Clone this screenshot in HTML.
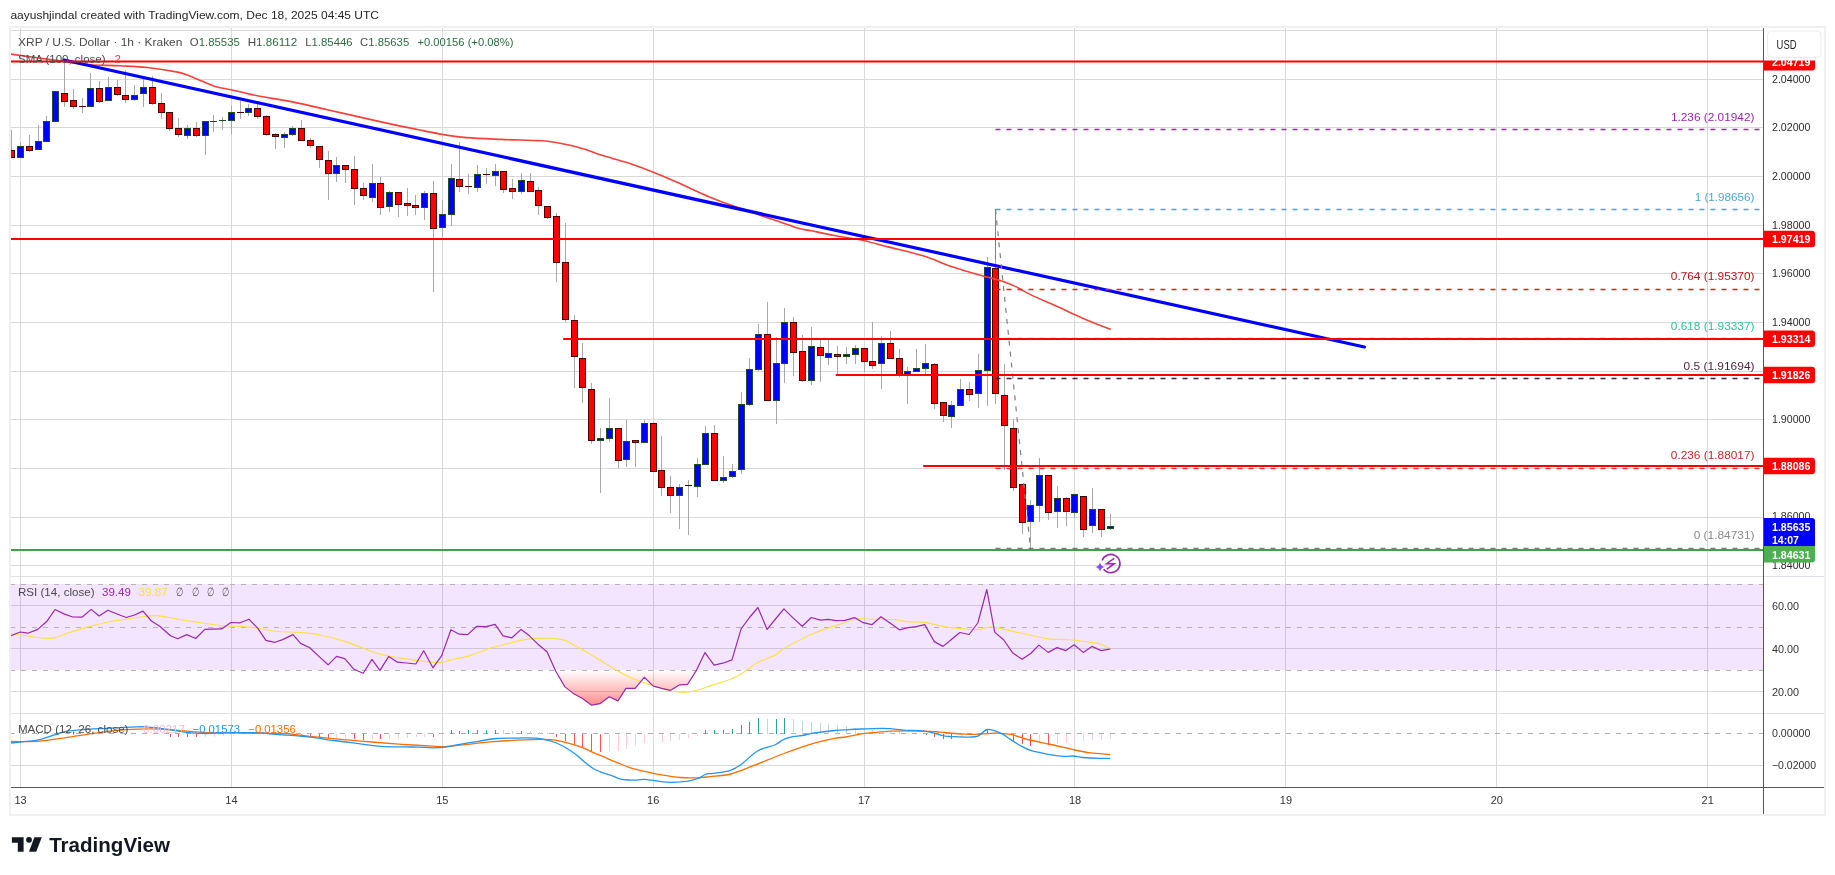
<!DOCTYPE html><html><head><meta charset="utf-8"><style>html,body{margin:0;padding:0;background:#fff;}svg{display:block;will-change:transform;}</style></head><body><svg width="1835" height="875" viewBox="0 0 1835 875" font-family='"Liberation Sans", sans-serif'>
<rect x="0" y="0" width="1835" height="875" fill="#ffffff"/>
<text x="10.4" y="18.7" font-size="11.5" fill="#262626" textLength="368.6" lengthAdjust="spacingAndGlyphs">aayushjindal created with TradingView.com, Dec 18, 2025 04:45 UTC</text>
<rect x="9" y="26" width="1817" height="790" fill="#f0f0f0"/>
<rect x="11" y="28" width="1813" height="786" fill="#ffffff"/>
<defs><clipPath id="cm"><rect x="11" y="28" width="1752" height="548"/></clipPath>
<clipPath id="cr"><rect x="11" y="577" width="1752" height="136"/></clipPath>
<clipPath id="cd"><rect x="11" y="714" width="1752" height="73"/></clipPath>
<linearGradient id="os" x1="0" y1="0" x2="0" y2="1"><stop offset="0" stop-color="#ff0000" stop-opacity="0"/><stop offset="1" stop-color="#ff0000" stop-opacity="0.45"/></linearGradient>
</defs>
<rect x="20" y="28" width="1" height="759" fill="#d9d9d9"/>
<rect x="231" y="28" width="1" height="759" fill="#d9d9d9"/>
<rect x="442" y="28" width="1" height="759" fill="#d9d9d9"/>
<rect x="653" y="28" width="1" height="759" fill="#d9d9d9"/>
<rect x="864" y="28" width="1" height="759" fill="#d9d9d9"/>
<rect x="1074" y="28" width="1" height="759" fill="#d9d9d9"/>
<rect x="1285" y="28" width="1" height="759" fill="#d9d9d9"/>
<rect x="1496" y="28" width="1" height="759" fill="#d9d9d9"/>
<rect x="1707" y="28" width="1" height="759" fill="#d9d9d9"/>
<rect x="11" y="30" width="1752" height="1" fill="#d9d9d9"/>
<rect x="11" y="79" width="1752" height="1" fill="#d9d9d9"/>
<rect x="11" y="127" width="1752" height="1" fill="#d9d9d9"/>
<rect x="11" y="176" width="1752" height="1" fill="#d9d9d9"/>
<rect x="11" y="225" width="1752" height="1" fill="#d9d9d9"/>
<rect x="11" y="273" width="1752" height="1" fill="#d9d9d9"/>
<rect x="11" y="322" width="1752" height="1" fill="#d9d9d9"/>
<rect x="11" y="371" width="1752" height="1" fill="#d9d9d9"/>
<rect x="11" y="419" width="1752" height="1" fill="#d9d9d9"/>
<rect x="11" y="468" width="1752" height="1" fill="#d9d9d9"/>
<rect x="11" y="517" width="1752" height="1" fill="#d9d9d9"/>
<rect x="11" y="565" width="1752" height="1" fill="#d9d9d9"/>
<g clip-path="url(#cm)">
<rect x="11" y="130" width="1" height="28" fill="#a8a8a8"/><rect x="8" y="150" width="7" height="8" fill="#4d0000"/><rect x="9" y="151" width="5" height="6" fill="#ff0000"/><rect x="20" y="142" width="1" height="16" fill="#a8a8a8"/><rect x="17" y="146" width="7" height="12" fill="#1b4d2a"/><rect x="18" y="147" width="5" height="10" fill="#0000ff"/><rect x="29" y="135" width="1" height="17" fill="#a8a8a8"/><rect x="26" y="146" width="7" height="5" fill="#4d0000"/><rect x="27" y="147" width="5" height="3" fill="#ff0000"/><rect x="38" y="125" width="1" height="24" fill="#a8a8a8"/><rect x="35" y="141" width="7" height="9" fill="#1b4d2a"/><rect x="36" y="142" width="5" height="7" fill="#0000ff"/><rect x="46" y="116" width="1" height="26" fill="#a8a8a8"/><rect x="43" y="121" width="7" height="21" fill="#1b4d2a"/><rect x="44" y="122" width="5" height="19" fill="#0000ff"/><rect x="55" y="91" width="1" height="30" fill="#a8a8a8"/><rect x="52" y="91" width="7" height="31" fill="#1b4d2a"/><rect x="53" y="92" width="5" height="29" fill="#0000ff"/><rect x="64" y="60" width="1" height="47" fill="#a8a8a8"/><rect x="61" y="93" width="7" height="9" fill="#4d0000"/><rect x="62" y="94" width="5" height="7" fill="#ff0000"/><rect x="73" y="89" width="1" height="20" fill="#a8a8a8"/><rect x="70" y="100" width="7" height="7" fill="#4d0000"/><rect x="71" y="101" width="5" height="5" fill="#ff0000"/><rect x="82" y="98" width="1" height="15" fill="#a8a8a8"/><rect x="79" y="106" width="7" height="1" fill="#4d0000"/><rect x="90" y="73" width="1" height="33" fill="#a8a8a8"/><rect x="87" y="88" width="7" height="19" fill="#1b4d2a"/><rect x="88" y="89" width="5" height="17" fill="#0000ff"/><rect x="99" y="81" width="1" height="22" fill="#a8a8a8"/><rect x="96" y="88" width="7" height="14" fill="#4d0000"/><rect x="97" y="89" width="5" height="12" fill="#ff0000"/><rect x="108" y="77" width="1" height="23" fill="#a8a8a8"/><rect x="105" y="87" width="7" height="14" fill="#1b4d2a"/><rect x="106" y="88" width="5" height="12" fill="#0000ff"/><rect x="117" y="80" width="1" height="16" fill="#a8a8a8"/><rect x="114" y="87" width="7" height="8" fill="#4d0000"/><rect x="115" y="88" width="5" height="6" fill="#ff0000"/><rect x="125" y="70" width="1" height="33" fill="#a8a8a8"/><rect x="122" y="95" width="7" height="5" fill="#4d0000"/><rect x="123" y="96" width="5" height="3" fill="#ff0000"/><rect x="134" y="85" width="1" height="16" fill="#a8a8a8"/><rect x="131" y="95" width="7" height="5" fill="#1b4d2a"/><rect x="132" y="96" width="5" height="3" fill="#0000ff"/><rect x="143" y="79" width="1" height="28" fill="#a8a8a8"/><rect x="140" y="87" width="7" height="7" fill="#1b4d2a"/><rect x="141" y="88" width="5" height="5" fill="#0000ff"/><rect x="152" y="76" width="1" height="29" fill="#a8a8a8"/><rect x="149" y="87" width="7" height="17" fill="#4d0000"/><rect x="150" y="88" width="5" height="15" fill="#ff0000"/><rect x="161" y="93" width="1" height="26" fill="#a8a8a8"/><rect x="158" y="103" width="7" height="10" fill="#4d0000"/><rect x="159" y="104" width="5" height="8" fill="#ff0000"/><rect x="169" y="112" width="1" height="19" fill="#a8a8a8"/><rect x="166" y="112" width="7" height="17" fill="#4d0000"/><rect x="167" y="113" width="5" height="15" fill="#ff0000"/><rect x="178" y="118" width="1" height="19" fill="#a8a8a8"/><rect x="175" y="128" width="7" height="7" fill="#4d0000"/><rect x="176" y="129" width="5" height="5" fill="#ff0000"/><rect x="187" y="125" width="1" height="14" fill="#a8a8a8"/><rect x="184" y="128" width="7" height="8" fill="#1b4d2a"/><rect x="185" y="129" width="5" height="6" fill="#0000ff"/><rect x="196" y="122" width="1" height="15" fill="#a8a8a8"/><rect x="193" y="128" width="7" height="8" fill="#4d0000"/><rect x="194" y="129" width="5" height="6" fill="#ff0000"/><rect x="205" y="121" width="1" height="34" fill="#a8a8a8"/><rect x="202" y="121" width="7" height="15" fill="#1b4d2a"/><rect x="203" y="122" width="5" height="13" fill="#0000ff"/><rect x="213" y="115" width="1" height="17" fill="#a8a8a8"/><rect x="210" y="121" width="7" height="1" fill="#1b4d2a"/><rect x="222" y="117" width="1" height="13" fill="#a8a8a8"/><rect x="219" y="120" width="7" height="1" fill="#1b4d2a"/><rect x="231" y="106" width="1" height="28" fill="#a8a8a8"/><rect x="228" y="112" width="7" height="9" fill="#1b4d2a"/><rect x="229" y="113" width="5" height="7" fill="#0000ff"/><rect x="240" y="101" width="1" height="18" fill="#a8a8a8"/><rect x="237" y="112" width="7" height="1" fill="#4d0000"/><rect x="248" y="104" width="1" height="12" fill="#a8a8a8"/><rect x="245" y="108" width="7" height="5" fill="#1b4d2a"/><rect x="246" y="109" width="5" height="3" fill="#0000ff"/><rect x="257" y="104" width="1" height="15" fill="#a8a8a8"/><rect x="254" y="108" width="7" height="9" fill="#4d0000"/><rect x="255" y="109" width="5" height="7" fill="#ff0000"/><rect x="266" y="115" width="1" height="21" fill="#a8a8a8"/><rect x="263" y="116" width="7" height="19" fill="#4d0000"/><rect x="264" y="117" width="5" height="17" fill="#ff0000"/><rect x="275" y="133" width="1" height="16" fill="#a8a8a8"/><rect x="272" y="134" width="7" height="3" fill="#4d0000"/><rect x="273" y="135" width="5" height="1" fill="#ff0000"/><rect x="284" y="132" width="1" height="16" fill="#a8a8a8"/><rect x="281" y="134" width="7" height="4" fill="#1b4d2a"/><rect x="282" y="135" width="5" height="2" fill="#0000ff"/><rect x="292" y="126" width="1" height="10" fill="#a8a8a8"/><rect x="289" y="128" width="7" height="7" fill="#1b4d2a"/><rect x="290" y="129" width="5" height="5" fill="#0000ff"/><rect x="301" y="120" width="1" height="20" fill="#a8a8a8"/><rect x="298" y="128" width="7" height="13" fill="#4d0000"/><rect x="299" y="129" width="5" height="11" fill="#ff0000"/><rect x="310" y="138" width="1" height="10" fill="#a8a8a8"/><rect x="307" y="140" width="7" height="6" fill="#4d0000"/><rect x="308" y="141" width="5" height="4" fill="#ff0000"/><rect x="319" y="146" width="1" height="22" fill="#a8a8a8"/><rect x="316" y="146" width="7" height="14" fill="#4d0000"/><rect x="317" y="147" width="5" height="12" fill="#ff0000"/><rect x="328" y="151" width="1" height="49" fill="#a8a8a8"/><rect x="325" y="160" width="7" height="14" fill="#4d0000"/><rect x="326" y="161" width="5" height="12" fill="#ff0000"/><rect x="336" y="157" width="1" height="25" fill="#a8a8a8"/><rect x="333" y="165" width="7" height="9" fill="#1b4d2a"/><rect x="334" y="166" width="5" height="7" fill="#0000ff"/><rect x="345" y="165" width="1" height="18" fill="#a8a8a8"/><rect x="342" y="165" width="7" height="5" fill="#4d0000"/><rect x="343" y="166" width="5" height="3" fill="#ff0000"/><rect x="354" y="156" width="1" height="49" fill="#a8a8a8"/><rect x="351" y="169" width="7" height="20" fill="#4d0000"/><rect x="352" y="170" width="5" height="18" fill="#ff0000"/><rect x="363" y="183" width="1" height="17" fill="#a8a8a8"/><rect x="360" y="188" width="7" height="8" fill="#4d0000"/><rect x="361" y="189" width="5" height="6" fill="#ff0000"/><rect x="372" y="164" width="1" height="38" fill="#a8a8a8"/><rect x="369" y="183" width="7" height="15" fill="#1b4d2a"/><rect x="370" y="184" width="5" height="13" fill="#0000ff"/><rect x="380" y="177" width="1" height="38" fill="#a8a8a8"/><rect x="377" y="183" width="7" height="25" fill="#4d0000"/><rect x="378" y="184" width="5" height="23" fill="#ff0000"/><rect x="389" y="191" width="1" height="21" fill="#a8a8a8"/><rect x="386" y="192" width="7" height="15" fill="#1b4d2a"/><rect x="387" y="193" width="5" height="13" fill="#0000ff"/><rect x="398" y="192" width="1" height="25" fill="#a8a8a8"/><rect x="395" y="192" width="7" height="13" fill="#4d0000"/><rect x="396" y="193" width="5" height="11" fill="#ff0000"/><rect x="407" y="188" width="1" height="28" fill="#a8a8a8"/><rect x="404" y="203" width="7" height="3" fill="#4d0000"/><rect x="405" y="204" width="5" height="1" fill="#ff0000"/><rect x="415" y="195" width="1" height="20" fill="#a8a8a8"/><rect x="412" y="205" width="7" height="3" fill="#4d0000"/><rect x="413" y="206" width="5" height="1" fill="#ff0000"/><rect x="424" y="191" width="1" height="29" fill="#a8a8a8"/><rect x="421" y="193" width="7" height="15" fill="#1b4d2a"/><rect x="422" y="194" width="5" height="13" fill="#0000ff"/><rect x="433" y="181" width="1" height="111" fill="#a8a8a8"/><rect x="430" y="193" width="7" height="36" fill="#4d0000"/><rect x="431" y="194" width="5" height="34" fill="#ff0000"/><rect x="442" y="200" width="1" height="37" fill="#a8a8a8"/><rect x="439" y="214" width="7" height="14" fill="#1b4d2a"/><rect x="440" y="215" width="5" height="12" fill="#0000ff"/><rect x="451" y="164" width="1" height="62" fill="#a8a8a8"/><rect x="448" y="178" width="7" height="37" fill="#1b4d2a"/><rect x="449" y="179" width="5" height="35" fill="#0000ff"/><rect x="459" y="142" width="1" height="50" fill="#a8a8a8"/><rect x="456" y="179" width="7" height="8" fill="#4d0000"/><rect x="457" y="180" width="5" height="6" fill="#ff0000"/><rect x="468" y="174" width="1" height="20" fill="#a8a8a8"/><rect x="465" y="186" width="7" height="1" fill="#4d0000"/><rect x="477" y="165" width="1" height="27" fill="#a8a8a8"/><rect x="474" y="174" width="7" height="14" fill="#1b4d2a"/><rect x="475" y="175" width="5" height="12" fill="#0000ff"/><rect x="486" y="168" width="1" height="16" fill="#a8a8a8"/><rect x="483" y="174" width="7" height="1" fill="#4d0000"/><rect x="495" y="164" width="1" height="22" fill="#a8a8a8"/><rect x="492" y="171" width="7" height="5" fill="#1b4d2a"/><rect x="493" y="172" width="5" height="3" fill="#0000ff"/><rect x="503" y="171" width="1" height="22" fill="#a8a8a8"/><rect x="500" y="171" width="7" height="19" fill="#4d0000"/><rect x="501" y="172" width="5" height="17" fill="#ff0000"/><rect x="512" y="179" width="1" height="20" fill="#a8a8a8"/><rect x="509" y="188" width="7" height="4" fill="#4d0000"/><rect x="510" y="189" width="5" height="2" fill="#ff0000"/><rect x="521" y="173" width="1" height="21" fill="#a8a8a8"/><rect x="518" y="180" width="7" height="12" fill="#1b4d2a"/><rect x="519" y="181" width="5" height="10" fill="#0000ff"/><rect x="530" y="173" width="1" height="19" fill="#a8a8a8"/><rect x="527" y="181" width="7" height="11" fill="#4d0000"/><rect x="528" y="182" width="5" height="9" fill="#ff0000"/><rect x="538" y="187" width="1" height="28" fill="#a8a8a8"/><rect x="535" y="190" width="7" height="16" fill="#4d0000"/><rect x="536" y="191" width="5" height="14" fill="#ff0000"/><rect x="547" y="206" width="1" height="13" fill="#a8a8a8"/><rect x="544" y="206" width="7" height="12" fill="#4d0000"/><rect x="545" y="207" width="5" height="10" fill="#ff0000"/><rect x="556" y="213" width="1" height="69" fill="#a8a8a8"/><rect x="553" y="216" width="7" height="47" fill="#4d0000"/><rect x="554" y="217" width="5" height="45" fill="#ff0000"/><rect x="565" y="223" width="1" height="99" fill="#a8a8a8"/><rect x="562" y="262" width="7" height="58" fill="#4d0000"/><rect x="563" y="263" width="5" height="56" fill="#ff0000"/><rect x="574" y="315" width="1" height="73" fill="#a8a8a8"/><rect x="571" y="320" width="7" height="37" fill="#4d0000"/><rect x="572" y="321" width="5" height="35" fill="#ff0000"/><rect x="582" y="343" width="1" height="60" fill="#a8a8a8"/><rect x="579" y="358" width="7" height="30" fill="#4d0000"/><rect x="580" y="359" width="5" height="28" fill="#ff0000"/><rect x="591" y="383" width="1" height="61" fill="#a8a8a8"/><rect x="588" y="389" width="7" height="52" fill="#4d0000"/><rect x="589" y="390" width="5" height="50" fill="#ff0000"/><rect x="600" y="428" width="1" height="65" fill="#a8a8a8"/><rect x="597" y="438" width="7" height="3" fill="#1b4d2a"/><rect x="598" y="439" width="5" height="1" fill="#0000ff"/><rect x="609" y="398" width="1" height="44" fill="#a8a8a8"/><rect x="606" y="428" width="7" height="11" fill="#1b4d2a"/><rect x="607" y="429" width="5" height="9" fill="#0000ff"/><rect x="618" y="428" width="1" height="40" fill="#a8a8a8"/><rect x="615" y="428" width="7" height="33" fill="#4d0000"/><rect x="616" y="429" width="5" height="31" fill="#ff0000"/><rect x="626" y="420" width="1" height="47" fill="#a8a8a8"/><rect x="623" y="441" width="7" height="19" fill="#1b4d2a"/><rect x="624" y="442" width="5" height="17" fill="#0000ff"/><rect x="635" y="440" width="1" height="27" fill="#a8a8a8"/><rect x="632" y="440" width="7" height="3" fill="#4d0000"/><rect x="633" y="441" width="5" height="1" fill="#ff0000"/><rect x="644" y="420" width="1" height="22" fill="#a8a8a8"/><rect x="641" y="423" width="7" height="20" fill="#1b4d2a"/><rect x="642" y="424" width="5" height="18" fill="#0000ff"/><rect x="653" y="423" width="1" height="48" fill="#a8a8a8"/><rect x="650" y="423" width="7" height="49" fill="#4d0000"/><rect x="651" y="424" width="5" height="47" fill="#ff0000"/><rect x="661" y="436" width="1" height="60" fill="#a8a8a8"/><rect x="658" y="470" width="7" height="18" fill="#4d0000"/><rect x="659" y="471" width="5" height="16" fill="#ff0000"/><rect x="670" y="476" width="1" height="37" fill="#a8a8a8"/><rect x="667" y="487" width="7" height="9" fill="#4d0000"/><rect x="668" y="488" width="5" height="7" fill="#ff0000"/><rect x="679" y="484" width="1" height="45" fill="#a8a8a8"/><rect x="676" y="487" width="7" height="9" fill="#1b4d2a"/><rect x="677" y="488" width="5" height="7" fill="#0000ff"/><rect x="688" y="480" width="1" height="55" fill="#a8a8a8"/><rect x="685" y="485" width="7" height="1" fill="#4d0000"/><rect x="697" y="458" width="1" height="39" fill="#a8a8a8"/><rect x="694" y="464" width="7" height="23" fill="#1b4d2a"/><rect x="695" y="465" width="5" height="21" fill="#0000ff"/><rect x="705" y="426" width="1" height="38" fill="#a8a8a8"/><rect x="702" y="433" width="7" height="32" fill="#1b4d2a"/><rect x="703" y="434" width="5" height="30" fill="#0000ff"/><rect x="714" y="425" width="1" height="55" fill="#a8a8a8"/><rect x="711" y="433" width="7" height="48" fill="#4d0000"/><rect x="712" y="434" width="5" height="46" fill="#ff0000"/><rect x="723" y="456" width="1" height="27" fill="#a8a8a8"/><rect x="720" y="477" width="7" height="4" fill="#1b4d2a"/><rect x="721" y="478" width="5" height="2" fill="#0000ff"/><rect x="732" y="464" width="1" height="14" fill="#a8a8a8"/><rect x="729" y="471" width="7" height="6" fill="#1b4d2a"/><rect x="730" y="472" width="5" height="4" fill="#0000ff"/><rect x="741" y="392" width="1" height="82" fill="#a8a8a8"/><rect x="738" y="404" width="7" height="66" fill="#1b4d2a"/><rect x="739" y="405" width="5" height="64" fill="#0000ff"/><rect x="749" y="358" width="1" height="48" fill="#a8a8a8"/><rect x="746" y="369" width="7" height="36" fill="#1b4d2a"/><rect x="747" y="370" width="5" height="34" fill="#0000ff"/><rect x="758" y="324" width="1" height="47" fill="#a8a8a8"/><rect x="755" y="334" width="7" height="36" fill="#1b4d2a"/><rect x="756" y="335" width="5" height="34" fill="#0000ff"/><rect x="767" y="302" width="1" height="98" fill="#a8a8a8"/><rect x="764" y="334" width="7" height="67" fill="#4d0000"/><rect x="765" y="335" width="5" height="65" fill="#ff0000"/><rect x="776" y="337" width="1" height="87" fill="#a8a8a8"/><rect x="773" y="363" width="7" height="38" fill="#1b4d2a"/><rect x="774" y="364" width="5" height="36" fill="#0000ff"/><rect x="784" y="308" width="1" height="75" fill="#a8a8a8"/><rect x="781" y="322" width="7" height="42" fill="#1b4d2a"/><rect x="782" y="323" width="5" height="40" fill="#0000ff"/><rect x="793" y="317" width="1" height="59" fill="#a8a8a8"/><rect x="790" y="322" width="7" height="31" fill="#4d0000"/><rect x="791" y="323" width="5" height="29" fill="#ff0000"/><rect x="802" y="335" width="1" height="47" fill="#a8a8a8"/><rect x="799" y="351" width="7" height="30" fill="#4d0000"/><rect x="800" y="352" width="5" height="28" fill="#ff0000"/><rect x="811" y="327" width="1" height="58" fill="#a8a8a8"/><rect x="808" y="346" width="7" height="35" fill="#1b4d2a"/><rect x="809" y="347" width="5" height="33" fill="#0000ff"/><rect x="820" y="340" width="1" height="42" fill="#a8a8a8"/><rect x="817" y="347" width="7" height="9" fill="#4d0000"/><rect x="818" y="348" width="5" height="7" fill="#ff0000"/><rect x="828" y="340" width="1" height="25" fill="#a8a8a8"/><rect x="825" y="353" width="7" height="5" fill="#1b4d2a"/><rect x="826" y="354" width="5" height="3" fill="#0000ff"/><rect x="837" y="346" width="1" height="29" fill="#a8a8a8"/><rect x="834" y="354" width="7" height="3" fill="#4d0000"/><rect x="835" y="355" width="5" height="1" fill="#ff0000"/><rect x="846" y="347" width="1" height="17" fill="#a8a8a8"/><rect x="843" y="354" width="7" height="3" fill="#1b4d2a"/><rect x="844" y="355" width="5" height="1" fill="#0000ff"/><rect x="855" y="345" width="1" height="19" fill="#a8a8a8"/><rect x="852" y="348" width="7" height="7" fill="#1b4d2a"/><rect x="853" y="349" width="5" height="5" fill="#0000ff"/><rect x="864" y="348" width="1" height="24" fill="#a8a8a8"/><rect x="861" y="348" width="7" height="14" fill="#4d0000"/><rect x="862" y="349" width="5" height="12" fill="#ff0000"/><rect x="872" y="322" width="1" height="47" fill="#a8a8a8"/><rect x="869" y="361" width="7" height="5" fill="#4d0000"/><rect x="870" y="362" width="5" height="3" fill="#ff0000"/><rect x="881" y="336" width="1" height="53" fill="#a8a8a8"/><rect x="878" y="343" width="7" height="21" fill="#1b4d2a"/><rect x="879" y="344" width="5" height="19" fill="#0000ff"/><rect x="890" y="331" width="1" height="27" fill="#a8a8a8"/><rect x="887" y="343" width="7" height="16" fill="#4d0000"/><rect x="888" y="344" width="5" height="14" fill="#ff0000"/><rect x="899" y="349" width="1" height="28" fill="#a8a8a8"/><rect x="896" y="358" width="7" height="17" fill="#4d0000"/><rect x="897" y="359" width="5" height="15" fill="#ff0000"/><rect x="907" y="367" width="1" height="37" fill="#a8a8a8"/><rect x="904" y="371" width="7" height="4" fill="#1b4d2a"/><rect x="905" y="372" width="5" height="2" fill="#0000ff"/><rect x="916" y="349" width="1" height="22" fill="#a8a8a8"/><rect x="913" y="368" width="7" height="4" fill="#1b4d2a"/><rect x="914" y="369" width="5" height="2" fill="#0000ff"/><rect x="925" y="344" width="1" height="30" fill="#a8a8a8"/><rect x="922" y="363" width="7" height="6" fill="#1b4d2a"/><rect x="923" y="364" width="5" height="4" fill="#0000ff"/><rect x="934" y="363" width="1" height="46" fill="#a8a8a8"/><rect x="931" y="364" width="7" height="40" fill="#4d0000"/><rect x="932" y="365" width="5" height="38" fill="#ff0000"/><rect x="943" y="402" width="1" height="20" fill="#a8a8a8"/><rect x="940" y="402" width="7" height="14" fill="#4d0000"/><rect x="941" y="403" width="5" height="12" fill="#ff0000"/><rect x="951" y="401" width="1" height="27" fill="#a8a8a8"/><rect x="948" y="405" width="7" height="12" fill="#1b4d2a"/><rect x="949" y="406" width="5" height="10" fill="#0000ff"/><rect x="960" y="379" width="1" height="26" fill="#a8a8a8"/><rect x="957" y="389" width="7" height="17" fill="#1b4d2a"/><rect x="958" y="390" width="5" height="15" fill="#0000ff"/><rect x="969" y="382" width="1" height="19" fill="#a8a8a8"/><rect x="966" y="389" width="7" height="6" fill="#4d0000"/><rect x="967" y="390" width="5" height="4" fill="#ff0000"/><rect x="978" y="354" width="1" height="54" fill="#a8a8a8"/><rect x="975" y="370" width="7" height="24" fill="#1b4d2a"/><rect x="976" y="371" width="5" height="22" fill="#0000ff"/><rect x="987" y="257" width="1" height="149" fill="#a8a8a8"/><rect x="984" y="267" width="7" height="104" fill="#1b4d2a"/><rect x="985" y="268" width="5" height="102" fill="#0000ff"/><rect x="995" y="209" width="1" height="195" fill="#a8a8a8"/><rect x="992" y="268" width="7" height="126" fill="#4d0000"/><rect x="993" y="269" width="5" height="124" fill="#ff0000"/><rect x="1004" y="364" width="1" height="106" fill="#a8a8a8"/><rect x="1001" y="395" width="7" height="31" fill="#4d0000"/><rect x="1002" y="396" width="5" height="29" fill="#ff0000"/><rect x="1013" y="419" width="1" height="72" fill="#a8a8a8"/><rect x="1010" y="428" width="7" height="60" fill="#4d0000"/><rect x="1011" y="429" width="5" height="58" fill="#ff0000"/><rect x="1022" y="484" width="1" height="50" fill="#a8a8a8"/><rect x="1019" y="484" width="7" height="39" fill="#4d0000"/><rect x="1020" y="485" width="5" height="37" fill="#ff0000"/><rect x="1030" y="500" width="1" height="48" fill="#a8a8a8"/><rect x="1027" y="505" width="7" height="17" fill="#1b4d2a"/><rect x="1028" y="506" width="5" height="15" fill="#0000ff"/><rect x="1039" y="458" width="1" height="64" fill="#a8a8a8"/><rect x="1036" y="475" width="7" height="31" fill="#1b4d2a"/><rect x="1037" y="476" width="5" height="29" fill="#0000ff"/><rect x="1048" y="475" width="1" height="45" fill="#a8a8a8"/><rect x="1045" y="475" width="7" height="38" fill="#4d0000"/><rect x="1046" y="476" width="5" height="36" fill="#ff0000"/><rect x="1057" y="486" width="1" height="42" fill="#a8a8a8"/><rect x="1054" y="498" width="7" height="14" fill="#1b4d2a"/><rect x="1055" y="499" width="5" height="12" fill="#0000ff"/><rect x="1066" y="497" width="1" height="29" fill="#a8a8a8"/><rect x="1063" y="498" width="7" height="14" fill="#4d0000"/><rect x="1064" y="499" width="5" height="12" fill="#ff0000"/><rect x="1074" y="494" width="1" height="24" fill="#a8a8a8"/><rect x="1071" y="494" width="7" height="19" fill="#1b4d2a"/><rect x="1072" y="495" width="5" height="17" fill="#0000ff"/><rect x="1083" y="496" width="1" height="41" fill="#a8a8a8"/><rect x="1080" y="496" width="7" height="34" fill="#4d0000"/><rect x="1081" y="497" width="5" height="32" fill="#ff0000"/><rect x="1092" y="488" width="1" height="45" fill="#a8a8a8"/><rect x="1089" y="509" width="7" height="17" fill="#1b4d2a"/><rect x="1090" y="510" width="5" height="15" fill="#0000ff"/><rect x="1101" y="509" width="1" height="28" fill="#a8a8a8"/><rect x="1098" y="509" width="7" height="21" fill="#4d0000"/><rect x="1099" y="510" width="5" height="19" fill="#ff0000"/><rect x="1110" y="514" width="1" height="16" fill="#a8a8a8"/><rect x="1107" y="526" width="7" height="3" fill="#1b4d2a"/><rect x="1108" y="527" width="5" height="1" fill="#0000ff"/>
<path d="M10.0,54.0 C19.0,55.2 50.7,59.6 64.0,61.4 C77.3,63.2 80.7,64.0 90.0,64.7 C99.3,65.4 110.4,65.3 120.0,65.8 C129.6,66.3 137.8,66.5 147.4,67.5 C157.0,68.5 171.0,70.8 177.6,72.1 C184.2,73.4 183.1,73.6 187.2,75.1 C191.3,76.6 197.5,79.4 202.3,81.3 C207.1,83.2 211.4,85.3 216.0,86.7 C220.6,88.1 225.7,88.7 229.7,89.5 C233.7,90.3 235.4,90.8 240.0,91.8 C244.6,92.8 248.7,94.1 257.4,95.8 C266.1,97.5 280.7,99.6 292.3,101.9 C303.9,104.2 315.6,107.1 327.2,109.7 C338.8,112.3 350.5,115.0 362.1,117.6 C373.7,120.2 386.8,123.2 397.0,125.4 C407.2,127.6 415.8,129.2 423.1,130.6 C430.4,132.0 433.3,132.9 440.6,134.1 C447.9,135.3 456.5,136.7 466.7,137.6 C476.9,138.5 490.0,138.9 501.6,139.4 C513.2,139.9 528.5,140.2 536.5,140.6 C544.5,140.9 543.0,140.4 549.7,141.5 C556.5,142.6 567.9,144.6 577.0,147.0 C586.1,149.4 595.3,153.1 604.5,156.0 C613.7,158.9 623.8,161.6 632.0,164.3 C640.2,167.1 646.0,169.3 654.0,172.5 C662.0,175.7 673.2,180.6 680.0,183.5 C686.8,186.4 689.2,187.8 694.5,190.2 C699.8,192.6 706.2,195.6 712.0,198.0 C717.8,200.4 723.6,202.6 729.4,204.6 C735.2,206.6 741.0,208.2 746.8,210.2 C752.6,212.2 758.5,214.7 764.3,216.7 C770.1,218.7 775.9,220.4 781.7,222.4 C787.5,224.4 794.2,227.1 799.2,228.5 C804.2,229.9 805.6,229.6 811.4,230.8 C817.2,232.0 825.9,234.0 834.0,235.5 C842.1,237.0 851.0,237.9 860.0,239.8 C869.0,241.7 877.7,244.2 888.3,246.9 C898.9,249.6 913.2,252.8 923.8,256.1 C934.4,259.4 942.7,263.6 952.1,266.8 C961.5,270.0 972.1,273.0 980.4,275.3 C988.7,277.6 995.8,279.0 1001.7,280.9 C1007.6,282.8 1011.2,284.4 1015.9,286.6 C1020.6,288.9 1022.9,291.0 1030.0,294.4 C1037.1,297.8 1049.0,302.9 1058.4,307.1 C1067.9,311.4 1078.1,316.2 1086.7,319.9 C1095.3,323.6 1106.2,327.6 1110.1,329.1" fill="none" stroke="#f5413a" stroke-width="1.6" stroke-linecap="round"/>
<line x1="64" y1="60" x2="1364.4" y2="347" stroke="#0000ff" stroke-width="3.2" stroke-linecap="round"/>
<line x1="995.5" y1="129.5" x2="1763" y2="129.5" stroke="#9c27b0" stroke-width="1.3" stroke-dasharray="5 6"/>
<line x1="995.5" y1="209.5" x2="1763" y2="209.5" stroke="#42a5d8" stroke-width="1.3" stroke-dasharray="5 6"/>
<line x1="995.5" y1="289.5" x2="1763" y2="289.5" stroke="#f01818" stroke-width="1.3" stroke-dasharray="5 6"/>
<line x1="995.5" y1="338.5" x2="1763" y2="338.5" stroke="#22c993" stroke-width="1.3" stroke-dasharray="5 6"/>
<line x1="995.5" y1="378.5" x2="1763" y2="378.5" stroke="#4a1f3d" stroke-width="1.3" stroke-dasharray="5 6"/>
<line x1="995.5" y1="468.5" x2="1763" y2="468.5" stroke="#e53935" stroke-width="1.3" stroke-dasharray="5 6"/>
<line x1="995.5" y1="548.5" x2="1763" y2="548.5" stroke="#7a7a7a" stroke-width="1.3" stroke-dasharray="5 6"/>
<line x1="995.5" y1="209.4" x2="1030.5" y2="548.5" stroke="#808080" stroke-width="1.2" stroke-dasharray="5 6"/>
<line x1="995.5" y1="209.4" x2="995.5" y2="260" stroke="#808080" stroke-width="1"/>
<line x1="11" y1="61.5" x2="1763" y2="61.5" stroke="#ff0000" stroke-width="2" stroke-linecap="round"/>
<line x1="11" y1="239.0" x2="1763" y2="239.0" stroke="#ff0000" stroke-width="2" stroke-linecap="round"/>
<line x1="564" y1="338.9" x2="1763" y2="338.9" stroke="#ff0000" stroke-width="2" stroke-linecap="round"/>
<line x1="836.5" y1="375.0" x2="1763" y2="375.0" stroke="#ff0000" stroke-width="2" stroke-linecap="round"/>
<line x1="924" y1="466.0" x2="1763" y2="466.0" stroke="#ff0000" stroke-width="2" stroke-linecap="round"/>
<line x1="11" y1="550.0" x2="1763" y2="550.0" stroke="#43a047" stroke-width="2"/>
<text x="1670.9" y="120.6" font-size="11.8" fill="#9c27b0" textLength="83.6" lengthAdjust="spacingAndGlyphs">1.236 (2.01942)</text>
<text x="1694.7" y="200.5" font-size="11.8" fill="#4aa8dc" textLength="59.8" lengthAdjust="spacingAndGlyphs">1 (1.98656)</text>
<text x="1670.8" y="280.4" font-size="11.8" fill="#b8141c" textLength="83.7" lengthAdjust="spacingAndGlyphs">0.764 (1.95370)</text>
<text x="1670.8" y="329.8" font-size="11.8" fill="#26c79a" textLength="83.7" lengthAdjust="spacingAndGlyphs">0.618 (1.93337)</text>
<text x="1683.5" y="369.8" font-size="11.8" fill="#4a1f3d" textLength="71" lengthAdjust="spacingAndGlyphs">0.5 (1.91694)</text>
<text x="1670.8" y="459.2" font-size="11.8" fill="#c62828" textLength="83.7" lengthAdjust="spacingAndGlyphs">0.236 (1.88017)</text>
<text x="1693.7" y="539.1" font-size="11.8" fill="#8a8a8a" textLength="60.8" lengthAdjust="spacingAndGlyphs">0 (1.84731)</text>
</g>
<text x="18.1" y="45.7" font-size="11.5" fill="#4a4a4a" textLength="164.3" lengthAdjust="spacingAndGlyphs">XRP / U.S. Dollar · 1h · Kraken</text>
<text x="189.8" y="45.7" font-size="11.5" textLength="50.0" lengthAdjust="spacingAndGlyphs"><tspan fill="#4a4a4a">O</tspan><tspan fill="#2f6e41">1.85535</tspan></text>
<text x="247.7" y="45.7" font-size="11.5" textLength="49.6" lengthAdjust="spacingAndGlyphs"><tspan fill="#4a4a4a">H</tspan><tspan fill="#2f6e41">1.86112</tspan></text>
<text x="305.2" y="45.7" font-size="11.5" textLength="47.4" lengthAdjust="spacingAndGlyphs"><tspan fill="#4a4a4a">L</tspan><tspan fill="#2f6e41">1.85446</tspan></text>
<text x="360.1" y="45.7" font-size="11.5" textLength="49.1" lengthAdjust="spacingAndGlyphs"><tspan fill="#4a4a4a">C</tspan><tspan fill="#2f6e41">1.85635</tspan></text>
<text x="417.4" y="45.7" font-size="11.5" fill="#2f6e41" textLength="96.1" lengthAdjust="spacingAndGlyphs">+0.00156 (+0.08%)</text>
<text x="18" y="62.7" font-size="11.5" fill="#4a4a4a" textLength="87.5" lengthAdjust="spacingAndGlyphs">SMA (100, close)</text>
<text x="114.6" y="62.7" font-size="11.5" fill="#ff3b30">2</text>
<g>
<path d="M 1102.1 560.6 A 9.2 9.2 0 1 1 1103.6 569.3" fill="none" stroke="#9c27b0" stroke-width="1.6"/>
<path d="M 1113.8 558.6 L 1106.6 563.7 L 1114.2 563.7 L 1107.3 568.8" fill="none" stroke="#9c27b0" stroke-width="1.5" stroke-linejoin="miter" stroke-linecap="round"/>
<path d="M 1100 562.2 Q 1100.7 566.3 1104.8 567 Q 1100.7 567.7 1100 571.8 Q 1099.3 567.7 1095.2 567 Q 1099.3 566.3 1100 562.2 Z" fill="#7c4dff"/>
</g>
<rect x="11" y="576" width="1813" height="1" fill="#e0e0e8"/>
<rect x="11" y="713" width="1813" height="1" fill="#e0e0e8"/>
<g clip-path="url(#cr)">
<rect x="11" y="605" width="1752" height="1" fill="#d9d9d9"/>
<rect x="11" y="648" width="1752" height="1" fill="#d9d9d9"/>
<rect x="11" y="691" width="1752" height="1" fill="#d9d9d9"/>
<rect x="11" y="584" width="1752" height="86" fill="rgb(155,40,240)" fill-opacity="0.12"/>
<line x1="11" y1="584.5" x2="1763" y2="584.5" stroke="#b4b4b4" stroke-width="1" stroke-dasharray="5 6" stroke-dashoffset="1"/>
<line x1="11" y1="627.5" x2="1763" y2="627.5" stroke="#b4b4b4" stroke-width="1" stroke-dasharray="5 6" stroke-dashoffset="1"/>
<line x1="11" y1="670.5" x2="1763" y2="670.5" stroke="#b4b4b4" stroke-width="1" stroke-dasharray="5 6" stroke-dashoffset="1"/>
<polygon points="555.4,670.4 555.8,671.2 564.9,686.9 573.3,693.4 582.5,698.6 591.6,705.2 600.0,703.7 609.2,696.8 617.9,700.9 626.0,688.4 635.1,688.4 644.3,677.3 653.4,686.1 661.8,688.4 670.2,690.4 679.4,684.9 687.7,684.3 696.1,670.9 696.3,670.4" fill="url(#os)"/>
<path d="M10.3,634.2 C12.0,634.3 16.0,634.5 20.2,635.0 C24.4,635.5 31.2,636.7 35.5,637.3 C39.8,637.9 42.8,638.3 46.1,638.4 C49.4,638.5 51.5,638.5 55.3,637.6 C59.1,636.7 63.7,634.5 69.0,632.7 C74.3,631.0 80.7,628.9 87.3,627.1 C93.9,625.3 102.1,623.4 108.7,622.0 C115.3,620.6 120.9,620.0 127.0,619.0 C133.1,618.0 140.5,616.8 145.3,616.2 C150.1,615.6 152.2,615.4 156.0,615.6 C159.8,615.8 164.1,616.5 168.2,617.2 C172.3,617.9 175.3,618.9 180.4,619.8 C185.5,620.7 191.8,621.5 198.7,622.5 C205.6,623.5 214.0,624.9 221.6,625.6 C229.2,626.3 238.1,626.1 244.5,626.6 C250.9,627.1 254.7,627.7 259.8,628.5 C264.9,629.3 267.8,630.5 275.0,631.2 C282.2,631.9 295.6,632.1 302.9,632.7 C310.2,633.3 312.0,633.3 318.9,634.7 C325.8,636.1 336.9,638.9 344.1,641.1 C351.4,643.3 356.3,645.8 362.4,648.0 C368.5,650.2 374.6,652.8 380.7,654.4 C386.8,656.0 392.9,656.9 399.0,657.9 C405.1,658.9 410.7,659.8 417.3,660.6 C423.9,661.4 432.3,662.8 438.7,662.5 C445.1,662.2 450.4,659.8 455.5,658.7 C460.6,657.6 463.3,657.7 469.2,655.9 C475.1,654.1 484.0,650.1 490.6,648.0 C497.2,645.9 503.3,644.8 508.9,643.4 C514.5,642.0 519.0,640.4 524.1,639.6 C529.2,638.8 534.3,638.6 539.4,638.4 C544.5,638.2 550.4,638.2 554.6,638.5 C558.9,638.8 560.8,638.8 564.9,640.4 C569.0,642.0 573.9,645.0 579.4,648.0 C584.9,651.0 591.6,655.0 597.7,658.7 C603.8,662.4 609.9,666.7 616.0,670.1 C622.1,673.5 628.2,676.8 634.3,679.3 C640.4,681.8 646.6,683.4 652.7,685.4 C658.8,687.4 666.4,689.9 671.0,691.0 C675.6,692.1 677.1,692.1 680.1,692.2 C683.1,692.4 686.2,692.3 689.3,691.9 C692.3,691.5 694.6,691.1 698.4,690.0 C702.2,688.9 706.9,686.9 712.2,685.1 C717.6,683.3 724.9,681.7 730.5,679.3 C736.1,676.9 741.1,673.7 745.7,670.9 C750.3,668.1 753.1,665.1 757.9,662.5 C762.7,659.9 770.4,657.6 774.7,655.3 C779.0,652.9 780.3,650.6 783.9,648.4 C787.5,646.2 791.5,644.3 796.1,641.9 C800.7,639.5 806.7,636.2 811.3,634.2 C815.9,632.2 819.5,631.1 823.5,629.7 C827.5,628.3 831.8,626.9 835.0,625.9 C838.2,624.9 839.0,624.7 842.6,623.5 C846.2,622.3 852.4,619.4 856.9,618.7 C861.4,618.0 863.5,619.1 869.5,619.2 C875.5,619.3 886.6,619.0 893.2,619.5 C899.8,620.0 903.7,621.4 909.0,621.9 C914.3,622.4 918.5,621.5 924.8,622.4 C931.1,623.3 939.5,626.0 946.9,627.1 C954.3,628.2 963.8,628.9 969.1,629.3 C974.4,629.7 975.4,629.9 978.5,629.5 C981.6,629.1 984.8,627.4 988.0,627.1 C991.2,626.8 992.8,627.1 997.5,627.9 C1002.2,628.7 1011.0,630.9 1016.5,632.1 C1022.0,633.3 1025.4,634.2 1030.7,635.3 C1036.0,636.4 1041.5,638.2 1048.1,638.9 C1054.7,639.6 1063.1,639.1 1070.2,639.7 C1077.3,640.3 1085.7,641.7 1090.7,642.4 C1095.7,643.1 1097.0,643.0 1100.2,644.0 C1103.4,645.0 1108.1,647.9 1109.7,648.7" fill="none" stroke="#fde047" stroke-width="1.15" stroke-linecap="round"/>
<polyline points="10.3,635.8 20.2,632.0 27.8,633.2 37.8,629.4 46.9,621.3 55.0,609.5 64.5,614.1 72.8,617.0 82.0,617.2 91.2,609.4 99.1,616.0 107.9,610.3 117.1,614.0 126.2,617.5 133.9,615.2 143.0,611.1 151.4,621.0 159.8,626.2 170.5,635.8 177.7,638.8 186.8,634.6 195.7,638.5 204.8,629.4 212.5,629.2 221.6,628.9 230.8,622.5 239.9,622.8 249.1,619.3 257.5,627.8 265.9,640.4 275.0,642.3 282.6,639.6 293.0,634.6 300.6,643.4 309.8,647.7 318.9,656.4 328.1,664.8 336.5,656.4 344.8,658.7 354.0,669.3 363.2,673.2 372.0,659.4 379.9,670.4 388.8,656.4 397.5,662.2 406.5,663.0 415.8,664.0 423.7,650.7 432.9,667.8 441.7,655.6 450.9,629.7 459.3,634.2 467.7,634.6 476.8,626.3 486.0,626.6 495.1,624.3 503.1,635.8 511.9,637.8 521.1,629.4 529.5,635.8 537.9,644.2 547.0,651.8 555.8,671.2 564.9,686.9 573.3,693.4 582.5,698.6 591.6,705.2 600.0,703.7 609.2,696.8 617.9,700.9 626.0,688.4 635.1,688.4 644.3,677.3 653.4,686.1 661.8,688.4 670.2,690.4 679.4,684.9 687.7,684.3 696.1,670.9 705.0,652.6 714.1,665.2 722.8,663.2 732.0,659.9 741.1,628.9 749.5,617.5 757.9,607.5 767.1,629.4 775.5,619.0 783.9,608.8 793.0,617.9 802.2,626.3 811.3,617.5 820.5,620.1 828.1,619.4 836.3,620.6 845.0,620.3 854.5,617.6 863.2,622.7 871.9,624.7 880.9,616.7 890.0,623.0 899.5,629.8 908.2,627.7 916.1,626.6 924.8,624.6 934.3,641.6 943.0,646.4 951.7,639.3 959.9,632.5 969.1,634.5 977.8,623.0 986.8,589.5 994.7,632.1 1003.8,640.0 1012.5,652.7 1022.0,659.3 1030.7,653.5 1038.9,645.1 1048.1,652.4 1057.1,647.6 1065.8,650.6 1074.2,644.8 1083.2,652.4 1092.0,646.4 1101.0,650.6 1109.7,649.1" fill="none" stroke="#9c27b0" stroke-width="1.2" stroke-linejoin="round" stroke-linecap="round"/>
</g>
<text x="18" y="595.8" font-size="11.5" fill="#4a4a4a" textLength="76.5" lengthAdjust="spacingAndGlyphs">RSI (14, close)</text>
<text x="102" y="595.8" font-size="11.5" fill="#9c27b0" textLength="28.9" lengthAdjust="spacingAndGlyphs">39.49</text>
<text x="138.5" y="595.8" font-size="11.5" fill="#fde047" textLength="29.2" lengthAdjust="spacingAndGlyphs">39.87</text>
<text x="175.6" y="595.8" font-size="11.5" fill="#5a5a5a" textLength="7" lengthAdjust="spacingAndGlyphs">∅</text>
<text x="191.6" y="595.8" font-size="11.5" fill="#5a5a5a" textLength="7" lengthAdjust="spacingAndGlyphs">∅</text>
<text x="206.6" y="595.8" font-size="11.5" fill="#5a5a5a" textLength="7" lengthAdjust="spacingAndGlyphs">∅</text>
<text x="221.5" y="595.8" font-size="11.5" fill="#5a5a5a" textLength="7" lengthAdjust="spacingAndGlyphs">∅</text>
<g clip-path="url(#cd)">
<rect x="11" y="765" width="1752" height="1" fill="#d9d9d9"/>
<line x1="11" y1="733.5" x2="1763" y2="733.5" stroke="#b0b0b0" stroke-width="1" stroke-dasharray="5 6" stroke-dashoffset="1"/>
<rect x="38" y="732" width="1" height="2" fill="#26a69a"/><rect x="47" y="732" width="1" height="2" fill="#26a69a"/><rect x="56" y="732" width="1" height="2" fill="#26a69a"/><rect x="65" y="732" width="1" height="2" fill="#b2dfdb"/><rect x="73" y="732" width="1" height="2" fill="#b2dfdb"/><rect x="170" y="734" width="1" height="3" fill="#ff5252"/><rect x="178" y="734" width="1" height="3" fill="#ff5252"/><rect x="187" y="734" width="1" height="3" fill="#ff5252"/><rect x="196" y="734" width="1" height="3" fill="#ff5252"/><rect x="205" y="734" width="1" height="3" fill="#ffcdd2"/><rect x="214" y="734" width="1" height="3" fill="#ffcdd2"/><rect x="223" y="734" width="1" height="2" fill="#ffcdd2"/><rect x="301" y="734" width="1" height="3" fill="#ff5252"/><rect x="310" y="734" width="1" height="3" fill="#ff5252"/><rect x="319" y="734" width="1" height="3" fill="#ff5252"/><rect x="328" y="734" width="1" height="4" fill="#ff5252"/><rect x="336" y="734" width="1" height="4" fill="#ffcdd2"/><rect x="345" y="734" width="1" height="4" fill="#ffcdd2"/><rect x="354" y="734" width="1" height="5" fill="#ff5252"/><rect x="363" y="734" width="1" height="6" fill="#ff5252"/><rect x="372" y="734" width="1" height="5" fill="#ffcdd2"/><rect x="380" y="734" width="1" height="5" fill="#ff5252"/><rect x="389" y="734" width="1" height="5" fill="#ffcdd2"/><rect x="398" y="734" width="1" height="4" fill="#ffcdd2"/><rect x="407" y="734" width="1" height="4" fill="#ffcdd2"/><rect x="416" y="734" width="1" height="3" fill="#ffcdd2"/><rect x="424" y="734" width="1" height="3" fill="#ffcdd2"/><rect x="433" y="734" width="1" height="3" fill="#ff5252"/><rect x="442" y="734" width="1" height="1" fill="#ffcdd2"/><rect x="451" y="730" width="1" height="4" fill="#26a69a"/><rect x="459" y="731" width="1" height="3" fill="#26a69a"/><rect x="468" y="730" width="1" height="4" fill="#26a69a"/><rect x="477" y="730" width="1" height="4" fill="#26a69a"/><rect x="486" y="730" width="1" height="4" fill="#26a69a"/><rect x="495" y="730" width="1" height="4" fill="#26a69a"/><rect x="503" y="730" width="1" height="4" fill="#b2dfdb"/><rect x="512" y="731" width="1" height="3" fill="#b2dfdb"/><rect x="521" y="731" width="1" height="3" fill="#26a69a"/><rect x="530" y="731" width="1" height="3" fill="#b2dfdb"/><rect x="539" y="732" width="1" height="2" fill="#b2dfdb"/><rect x="547" y="733" width="1" height="1" fill="#b2dfdb"/><rect x="556" y="734" width="1" height="3" fill="#ff5252"/><rect x="565" y="734" width="1" height="7" fill="#ff5252"/><rect x="574" y="734" width="1" height="11" fill="#ff5252"/><rect x="582" y="734" width="1" height="14" fill="#ff5252"/><rect x="591" y="734" width="1" height="17" fill="#ff5252"/><rect x="600" y="734" width="1" height="18" fill="#ff5252"/><rect x="609" y="734" width="1" height="17" fill="#ffcdd2"/><rect x="618" y="734" width="1" height="17" fill="#ffcdd2"/><rect x="626" y="734" width="1" height="15" fill="#ffcdd2"/><rect x="635" y="734" width="1" height="12" fill="#ffcdd2"/><rect x="644" y="734" width="1" height="9" fill="#ffcdd2"/><rect x="653" y="734" width="1" height="9" fill="#ffcdd2"/><rect x="662" y="734" width="1" height="8" fill="#ffcdd2"/><rect x="670" y="734" width="1" height="7" fill="#ffcdd2"/><rect x="679" y="734" width="1" height="6" fill="#ffcdd2"/><rect x="688" y="734" width="1" height="4" fill="#ffcdd2"/><rect x="697" y="734" width="1" height="2" fill="#ffcdd2"/><rect x="705" y="730" width="1" height="4" fill="#26a69a"/><rect x="714" y="730" width="1" height="4" fill="#26a69a"/><rect x="723" y="730" width="1" height="4" fill="#26a69a"/><rect x="732" y="729" width="1" height="5" fill="#26a69a"/><rect x="741" y="725" width="1" height="9" fill="#26a69a"/><rect x="749" y="722" width="1" height="12" fill="#26a69a"/><rect x="758" y="718" width="1" height="16" fill="#26a69a"/><rect x="767" y="719" width="1" height="15" fill="#b2dfdb"/><rect x="776" y="719" width="1" height="15" fill="#26a69a"/><rect x="784" y="718" width="1" height="16" fill="#26a69a"/><rect x="793" y="719" width="1" height="15" fill="#b2dfdb"/><rect x="802" y="721" width="1" height="13" fill="#b2dfdb"/><rect x="811" y="722" width="1" height="12" fill="#b2dfdb"/><rect x="820" y="723" width="1" height="11" fill="#b2dfdb"/><rect x="828" y="724" width="1" height="10" fill="#b2dfdb"/><rect x="837" y="725" width="1" height="9" fill="#b2dfdb"/><rect x="846" y="726" width="1" height="8" fill="#b2dfdb"/><rect x="855" y="728" width="1" height="6" fill="#b2dfdb"/><rect x="864" y="729" width="1" height="5" fill="#b2dfdb"/><rect x="872" y="730" width="1" height="4" fill="#b2dfdb"/><rect x="881" y="731" width="1" height="3" fill="#b2dfdb"/><rect x="890" y="732" width="1" height="2" fill="#b2dfdb"/><rect x="899" y="732" width="1" height="2" fill="#b2dfdb"/><rect x="908" y="733" width="1" height="1" fill="#b2dfdb"/><rect x="926" y="734" width="1" height="1" fill="#ff5252"/><rect x="934" y="734" width="1" height="3" fill="#ff5252"/><rect x="943" y="734" width="1" height="5" fill="#ff5252"/><rect x="951" y="734" width="1" height="5" fill="#ff5252"/><rect x="961" y="734" width="1" height="3" fill="#ffcdd2"/><rect x="969" y="734" width="1" height="1" fill="#ffcdd2"/><rect x="987" y="729" width="1" height="5" fill="#26a69a"/><rect x="995" y="732" width="1" height="2" fill="#b2dfdb"/><rect x="1013" y="734" width="1" height="7" fill="#ff5252"/><rect x="1022" y="734" width="1" height="10" fill="#ff5252"/><rect x="1030" y="734" width="1" height="12" fill="#ff5252"/><rect x="1039" y="734" width="1" height="9" fill="#ffcdd2"/><rect x="1048" y="734" width="1" height="11" fill="#ff5252"/><rect x="1057" y="734" width="1" height="10" fill="#ffcdd2"/><rect x="1066" y="734" width="1" height="9" fill="#ffcdd2"/><rect x="1074" y="734" width="1" height="7" fill="#ffcdd2"/><rect x="1083" y="734" width="1" height="7" fill="#ffcdd2"/><rect x="1092" y="734" width="1" height="6" fill="#ffcdd2"/><rect x="1101" y="734" width="1" height="6" fill="#ffcdd2"/><rect x="1110" y="734" width="1" height="5" fill="#ffcdd2"/>
<path d="M10.3,741.3 C13.7,741.4 24.9,741.8 30.9,741.7 C36.9,741.6 39.8,741.2 46.1,740.5 C52.5,739.8 61.4,738.4 69.0,737.2 C76.6,736.1 84.3,734.7 91.9,733.6 C99.5,732.5 107.2,731.4 114.8,730.6 C122.4,729.9 130.1,729.4 137.7,729.1 C145.3,728.9 153.0,728.8 160.6,729.1 C168.2,729.4 175.9,730.3 183.5,730.9 C191.1,731.5 197.5,732.3 206.4,732.6 C215.3,732.9 226.7,732.8 236.9,732.9 C247.1,733.0 258.9,733.2 267.4,733.3 C275.9,733.4 283.4,733.4 288.0,733.6 C292.6,733.8 290.3,734.1 295.3,734.7 C300.3,735.3 310.5,736.4 318.1,737.2 C325.7,738.0 332.1,738.6 341.0,739.4 C349.9,740.2 361.3,741.2 371.5,742.0 C381.7,742.8 391.9,743.6 402.1,744.3 C412.3,745.0 425.7,745.8 432.6,746.2 C439.5,746.6 438.2,746.8 443.3,746.6 C448.4,746.4 454.7,745.6 463.1,744.8 C471.5,744.0 483.4,742.5 493.6,741.7 C503.8,740.9 514.7,740.1 524.1,739.8 C533.5,739.4 544.2,739.4 550.0,739.6 C555.8,739.8 555.8,740.4 558.7,740.9 C561.6,741.4 564.5,742.2 567.4,742.9 C570.3,743.6 573.3,744.3 576.2,745.3 C579.1,746.3 582.0,747.5 584.9,748.7 C587.8,749.9 590.7,751.5 593.6,752.7 C596.5,754.0 599.4,755.0 602.3,756.2 C605.2,757.4 608.1,758.9 611.0,760.1 C613.9,761.3 616.8,762.4 619.7,763.6 C622.6,764.8 625.6,766.1 628.5,767.1 C631.4,768.1 634.3,768.9 637.2,769.7 C640.1,770.5 643.0,771.1 645.9,771.7 C648.8,772.4 651.7,773.0 654.6,773.6 C657.5,774.2 660.4,774.7 663.3,775.2 C666.2,775.7 669.2,776.2 672.1,776.6 C675.0,777.0 677.9,777.3 680.8,777.5 C683.7,777.7 686.6,777.9 689.5,777.9 C692.4,777.9 694.8,778.0 698.2,777.8 C701.6,777.6 704.6,777.2 710.0,776.6 C715.4,776.0 723.3,775.8 730.5,774.0 C737.7,772.2 744.5,769.1 753.4,765.7 C762.3,762.3 773.7,757.3 783.9,753.5 C794.1,749.7 805.9,745.6 814.4,743.1 C822.9,740.6 829.8,739.3 835.0,738.3 C840.2,737.3 841.4,737.7 845.8,737.0 C850.2,736.3 856.3,734.7 861.6,733.9 C866.9,733.1 872.1,732.8 877.4,732.3 C882.7,731.8 885.3,731.3 893.2,731.1 C901.1,730.9 916.9,730.9 924.8,731.1 C932.7,731.3 934.0,731.7 940.6,732.2 C947.2,732.7 957.7,733.9 964.3,734.2 C970.9,734.5 974.8,734.4 980.1,734.2 C985.4,734.0 990.6,733.0 995.9,733.1 C1001.2,733.2 1006.4,733.6 1011.7,734.7 C1017.0,735.8 1020.9,737.9 1027.5,739.5 C1034.1,741.1 1043.3,742.8 1051.2,744.5 C1059.1,746.2 1068.3,748.6 1074.9,750.0 C1081.5,751.4 1084.9,752.1 1090.7,752.9 C1096.5,753.6 1106.5,754.2 1109.7,754.5" fill="none" stroke="#ff6d00" stroke-width="1.3" stroke-linecap="round"/>
<path d="M10.3,743.1 C12.0,742.9 15.5,742.5 20.2,742.0 C24.9,741.5 32.9,740.9 38.5,739.8 C44.1,738.7 49.2,736.6 53.8,735.2 C58.4,733.8 60.9,732.4 66.0,731.4 C71.1,730.4 77.4,730.0 84.3,729.5 C91.2,729.0 99.6,728.7 107.2,728.3 C114.8,727.9 123.7,727.5 130.0,727.2 C136.3,727.0 140.2,726.6 145.3,726.8 C150.4,727.0 155.5,727.7 160.6,728.3 C165.7,728.9 170.7,729.8 175.8,730.6 C180.9,731.4 186.0,732.4 191.1,732.9 C196.2,733.4 201.3,733.6 206.4,733.6 C211.5,733.6 216.5,733.1 221.6,732.9 C226.7,732.7 230.5,732.6 236.9,732.6 C243.3,732.6 253.5,732.6 259.8,732.9 C266.2,733.2 270.3,734.0 275.0,734.4 C279.7,734.8 284.6,735.0 288.0,735.2 C291.4,735.4 291.6,735.3 295.3,735.6 C299.1,735.9 304.1,736.4 310.5,737.2 C316.9,738.0 327.0,739.6 333.4,740.5 C339.8,741.4 343.6,741.7 348.7,742.3 C353.8,742.9 358.6,743.6 363.9,744.3 C369.2,745.0 374.3,745.9 380.7,746.3 C387.1,746.7 396.0,746.8 402.1,746.9 C408.2,747.0 412.2,747.0 417.3,747.1 C422.4,747.2 428.3,747.8 432.6,747.8 C436.9,747.8 439.5,747.8 443.3,747.4 C447.1,747.0 449.6,746.1 455.5,745.1 C461.4,744.1 471.5,742.4 478.4,741.3 C485.3,740.2 490.3,739.0 496.7,738.5 C503.1,738.0 511.9,738.3 516.5,738.2 C521.1,738.1 520.8,737.8 524.1,737.8 C527.4,737.8 532.0,737.7 536.3,738.2 C540.6,738.7 546.3,739.9 550.0,740.9 C553.7,741.9 555.8,742.7 558.7,744.0 C561.6,745.3 564.5,746.9 567.4,748.7 C570.3,750.5 573.3,752.5 576.2,754.8 C579.1,757.1 582.0,760.0 584.9,762.3 C587.8,764.6 590.7,767.1 593.6,768.8 C596.5,770.5 599.4,771.6 602.3,772.7 C605.2,773.8 608.1,774.3 611.0,775.3 C613.9,776.3 616.8,778.0 619.7,778.8 C622.6,779.6 625.6,779.8 628.5,780.0 C631.4,780.2 634.6,780.2 637.2,780.1 C639.8,780.0 641.3,779.2 644.2,779.3 C647.1,779.4 651.4,780.2 654.6,780.6 C657.8,781.0 660.4,781.6 663.3,781.9 C666.2,782.2 669.2,782.3 672.1,782.3 C675.0,782.3 677.9,782.1 680.8,781.9 C683.7,781.6 686.6,781.4 689.5,780.8 C692.4,780.2 695.6,779.4 698.2,778.4 C700.8,777.4 703.2,775.3 705.2,774.5 C707.2,773.7 708.3,773.8 710.0,773.6 C711.7,773.4 711.8,773.8 715.2,773.2 C718.6,772.7 726.2,771.8 730.5,770.3 C734.8,768.8 736.5,767.8 741.1,764.5 C745.7,761.2 752.3,754.0 757.9,750.8 C763.5,747.5 770.4,746.9 774.7,745.0 C779.0,743.1 780.9,740.7 783.9,739.3 C786.9,737.9 790.0,737.2 793.0,736.6 C796.0,736.0 798.6,736.1 802.2,735.5 C805.8,734.9 808.9,733.7 814.4,732.9 C819.9,732.1 829.8,731.0 835.0,730.5 C840.2,730.0 841.4,730.0 845.8,729.8 C850.2,729.5 855.5,729.2 861.6,729.0 C867.7,728.8 877.4,728.4 882.1,728.4 C886.8,728.4 886.0,728.4 890.0,728.7 C894.0,729.0 900.1,729.9 905.9,730.3 C911.7,730.7 918.5,730.2 924.8,731.1 C931.1,732.0 939.0,734.9 943.8,735.8 C948.5,736.7 949.3,736.4 953.3,736.6 C957.2,736.8 963.3,737.2 967.5,737.1 C971.7,737.0 975.2,737.1 978.5,735.8 C981.8,734.5 983.5,730.0 987.2,729.5 C990.9,729.0 997.1,731.6 1000.7,733.1 C1004.3,734.6 1005.2,736.0 1008.6,738.2 C1012.0,740.4 1017.5,744.1 1021.2,746.1 C1024.9,748.1 1026.2,749.0 1030.7,750.4 C1035.2,751.8 1042.6,753.3 1048.1,754.3 C1053.6,755.3 1059.7,756.1 1063.9,756.4 C1068.1,756.7 1070.2,755.8 1073.4,756.0 C1076.6,756.2 1078.3,757.1 1082.8,757.5 C1087.3,757.9 1095.7,758.3 1100.2,758.4 C1104.7,758.5 1108.1,758.3 1109.7,758.3" fill="none" stroke="#2196f3" stroke-width="1.3" stroke-linecap="round"/>
</g>
<text x="17.9" y="732.5" font-size="11.5" fill="#4a4a4a" textLength="110.6" lengthAdjust="spacingAndGlyphs">MACD (12, 26, close)</text>
<text x="143" y="732.5" font-size="11.5" fill="#f8bbd0" textLength="42" lengthAdjust="spacingAndGlyphs">0.00217</text>
<text x="192.6" y="732.5" font-size="11.5" fill="#2196f3" textLength="47.4" lengthAdjust="spacingAndGlyphs">−0.01573</text>
<text x="248.3" y="732.5" font-size="11.5" fill="#ff6d00" textLength="47.4" lengthAdjust="spacingAndGlyphs">−0.01356</text>
<rect x="11" y="787" width="1813" height="1" fill="#555555"/>
<text x="20.5" y="804" font-size="11" fill="#333333" text-anchor="middle">13</text>
<text x="231.4" y="804" font-size="11" fill="#333333" text-anchor="middle">14</text>
<text x="442.3" y="804" font-size="11" fill="#333333" text-anchor="middle">15</text>
<text x="653.2" y="804" font-size="11" fill="#333333" text-anchor="middle">16</text>
<text x="864.1" y="804" font-size="11" fill="#333333" text-anchor="middle">17</text>
<text x="1075.0" y="804" font-size="11" fill="#333333" text-anchor="middle">18</text>
<text x="1285.9" y="804" font-size="11" fill="#333333" text-anchor="middle">19</text>
<text x="1496.8" y="804" font-size="11" fill="#333333" text-anchor="middle">20</text>
<text x="1707.7" y="804" font-size="11" fill="#333333" text-anchor="middle">21</text>
<rect x="1763" y="28" width="1" height="786" fill="#555555"/>
<text x="1772" y="82.6" font-size="11" fill="#2a2a2a" textLength="38.4" lengthAdjust="spacingAndGlyphs">2.04000</text>
<text x="1772" y="131.3" font-size="11" fill="#2a2a2a" textLength="38.4" lengthAdjust="spacingAndGlyphs">2.02000</text>
<text x="1772" y="179.9" font-size="11" fill="#2a2a2a" textLength="38.4" lengthAdjust="spacingAndGlyphs">2.00000</text>
<text x="1772" y="228.5" font-size="11" fill="#2a2a2a" textLength="38.4" lengthAdjust="spacingAndGlyphs">1.98000</text>
<text x="1772" y="277.2" font-size="11" fill="#2a2a2a" textLength="38.4" lengthAdjust="spacingAndGlyphs">1.96000</text>
<text x="1772" y="325.8" font-size="11" fill="#2a2a2a" textLength="38.4" lengthAdjust="spacingAndGlyphs">1.94000</text>
<text x="1772" y="423.0" font-size="11" fill="#2a2a2a" textLength="38.4" lengthAdjust="spacingAndGlyphs">1.90000</text>
<text x="1772" y="520.3" font-size="11" fill="#2a2a2a" textLength="38.4" lengthAdjust="spacingAndGlyphs">1.86000</text>
<text x="1772" y="568.9" font-size="11" fill="#2a2a2a" textLength="38.4" lengthAdjust="spacingAndGlyphs">1.84000</text>
<text x="1772" y="609.5" font-size="11" fill="#333333" textLength="27" lengthAdjust="spacingAndGlyphs">60.00</text>
<text x="1772" y="652.5" font-size="11" fill="#333333" textLength="27" lengthAdjust="spacingAndGlyphs">40.00</text>
<text x="1772" y="695.5" font-size="11" fill="#333333" textLength="27" lengthAdjust="spacingAndGlyphs">20.00</text>
<text x="1772" y="736.9" font-size="11" fill="#333333" textLength="38.4" lengthAdjust="spacingAndGlyphs">0.00000</text>
<text x="1772" y="769.1" font-size="11" fill="#333333" textLength="44" lengthAdjust="spacingAndGlyphs">−0.02000</text>
<path d="M1764 230.8 H1812 Q1815 230.8 1815 233.8 V244.3 Q1815 247.3 1812 247.3 H1764 Z" fill="#ff0000"/>
<text x="1772" y="243.0" font-size="11" fill="#ffffff" font-weight="bold" textLength="38.4" lengthAdjust="spacingAndGlyphs">1.97419</text>
<path d="M1764 330.6 H1812 Q1815 330.6 1815 333.6 V344.1 Q1815 347.1 1812 347.1 H1764 Z" fill="#ff0000"/>
<text x="1772" y="342.9" font-size="11" fill="#ffffff" font-weight="bold" textLength="38.4" lengthAdjust="spacingAndGlyphs">1.93314</text>
<path d="M1764 366.8 H1812 Q1815 366.8 1815 369.8 V380.3 Q1815 383.3 1812 383.3 H1764 Z" fill="#ff0000"/>
<text x="1772" y="379.0" font-size="11" fill="#ffffff" font-weight="bold" textLength="38.4" lengthAdjust="spacingAndGlyphs">1.91826</text>
<path d="M1764 457.7 H1812 Q1815 457.7 1815 460.7 V471.2 Q1815 474.2 1812 474.2 H1764 Z" fill="#ff0000"/>
<text x="1772" y="470.0" font-size="11" fill="#ffffff" font-weight="bold" textLength="38.4" lengthAdjust="spacingAndGlyphs">1.88086</text>
<path d="M1764 52.5 H1812 Q1815 52.5 1815 55.5 V67.5 Q1815 70.5 1812 70.5 H1764 Z" fill="#ff0000"/>
<text x="1772" y="65.5" font-size="11" fill="#ffffff" font-weight="bold" textLength="38.4" lengthAdjust="spacingAndGlyphs">2.04719</text>
<path d="M1764 518 H1812 Q1815 518 1815 521 V546 H1764 Z" fill="#0000ff"/>
<text x="1772" y="530.6" font-size="11" fill="#ffffff" font-weight="bold" textLength="38.4" lengthAdjust="spacingAndGlyphs">1.85635</text>
<text x="1772" y="543.7" font-size="11" fill="#ffffff" font-weight="bold" textLength="27" lengthAdjust="spacingAndGlyphs">14:07</text>
<path d="M1764 546 H1815 V559.6 Q1815 562.6 1812 562.6 H1764 Z" fill="#4caf50"/>
<text x="1772" y="558.6" font-size="11" fill="#ffffff" font-weight="bold" textLength="38.4" lengthAdjust="spacingAndGlyphs">1.84631</text>
<rect x="1764" y="28" width="60" height="32.5" fill="#ffffff"/>
<rect x="1767.5" y="31" width="53.5" height="26.5" rx="4" fill="#ffffff" stroke="#ececec" stroke-width="1"/>
<text x="1776.6" y="48.8" font-size="12" fill="#222222" textLength="20" lengthAdjust="spacingAndGlyphs">USD</text>
<g fill="#131722">
<path d="M11.9 837.3 H23.6 V851.7 H17.8 V842.7 H11.9 Z"/>
<circle cx="29" cy="839.8" r="2.9"/>
<path d="M34.4 837.3 H41.8 L36.2 851.7 H29 Z"/>
</g>
<text x="49.2" y="851.7" font-size="19.6" fill="#131722" font-weight="bold" textLength="120.7" lengthAdjust="spacingAndGlyphs">TradingView</text>
</svg></body></html>
